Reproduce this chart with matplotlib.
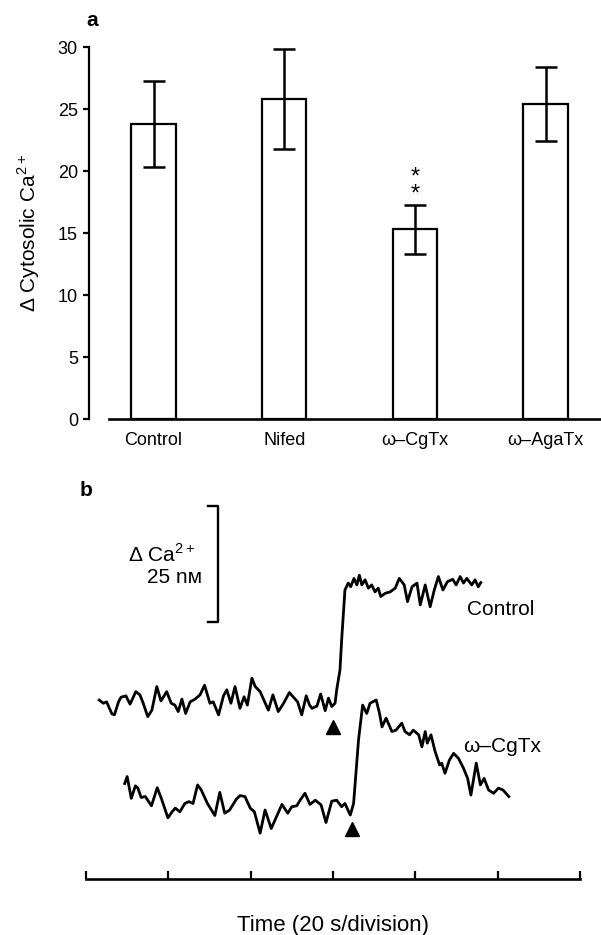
import matplotlib
matplotlib.use('Agg')
import matplotlib.pyplot as plt
import numpy as np

plt.rcParams['font.family'] = ['Liberation Sans', 'DejaVu Sans']
plt.rcParams['mathtext.fontset'] = 'custom'
plt.rcParams['mathtext.rm'] = 'Liberation Sans'

# --- panel a: peak rise in cytosolic Ca2+ (nM) ---
groups = ['Control', 'Nifed', 'ω–CgTx', 'ω–AgaTx']
mean_ca = [23.8, 25.8, 15.3, 25.4]
sem_ca = [3.5, 4.0, 2.0, 3.0]
signif = ['', '', '**', '']

# --- panel b: example traces (time in s, delta Ca2+ in nM) ---
control_t = [3.2, 4.2, 5.0, 6.3, 6.9, 7.9, 8.5, 9.7, 10.7, 12.1,
             13.1, 13.9, 15.0, 16.0, 17.2, 18.2, 19.6, 20.7, 21.6, 22.4,
             23.3, 24.2, 25.3, 26.5, 27.7, 28.8, 30.1, 30.9, 32.2, 33.4,
             34.2, 35.2, 36.2, 37.4, 38.4, 39.2, 40.3, 41.1, 42.3, 44.3,
             45.4, 46.7, 48.0, 49.4, 50.6, 51.4, 52.4, 53.5, 54.3, 54.9,
             56.1, 57.0, 58.1, 58.9, 59.7, 60.5, 60.9, 61.7, 62.1, 62.9,
             63.7, 64.3, 65.1, 65.8, 66.4, 67.0, 67.8, 68.6, 69.4, 70.2,
             71.0, 71.6, 72.7, 73.9, 75.1, 76.1, 77.3, 78.1, 79.2, 80.4,
             81.2, 82.4, 83.6, 84.6, 85.6, 86.7, 87.8, 89.1, 89.9, 90.9,
             91.7, 92.5, 93.7, 94.5, 95.3, 95.9]
control_ca = [0.0, -0.7, -0.4, -3.0, -3.2, -0.4, 0.6, 0.9, -0.9, 1.8,
              1.1, -0.7, -3.6, -2.2, 2.9, -0.2, 1.8, -0.7, -1.1, -2.5,
              0.2, -2.9, -0.4, 0.2, 1.1, 3.2, -0.7, -0.4, -3.2, 0.9,
              2.2, -0.7, 2.9, -1.8, 0.7, -1.1, 4.7, 2.9, 1.8, -2.2,
              1.1, -2.5, -0.7, 1.6, 0.4, -0.4, -3.2, 0.9, -1.1, -1.8,
              -1.3, 1.3, -2.3, 0.4, -1.4, -0.7, 2.2, 6.5, 12.9, 23.7,
              25.2, 24.4, 26.2, 24.8, 26.9, 24.8, 25.9, 24.1, 24.8, 23.3,
              24.1, 22.3, 23.0, 23.3, 24.1, 26.2, 24.8, 21.2, 24.4, 25.2,
              20.5, 24.8, 20.1, 23.7, 26.6, 23.7, 25.5, 26.0, 24.8, 26.6,
              25.2, 26.2, 24.8, 25.9, 24.4, 25.3]

cgtx_t = [9.4, 10.0, 11.0, 12.0, 12.6, 13.4, 14.4, 15.9, 17.3, 18.3,
          19.9, 20.9, 21.7, 22.8, 24.0, 25.0, 26.0, 27.1, 28.0, 29.5,
          31.3, 32.5, 33.7, 34.9, 36.5, 37.4, 38.6, 39.9, 40.9, 42.3,
          43.5, 45.0, 46.1, 47.6, 49.0, 50.0, 51.2, 52.0, 53.2, 54.4,
          55.7, 57.1, 58.3, 59.7, 60.9, 62.1, 62.9, 64.2, 65.0, 66.2,
          67.2, 68.2, 69.0, 70.5, 71.3, 71.9, 72.9, 74.3, 75.3, 76.7,
          77.5, 78.6, 79.5, 80.8, 81.6, 82.4, 82.9, 83.8, 84.8, 85.9,
          86.4, 87.2, 88.3, 89.3, 90.5, 91.7, 92.7, 93.5, 94.8, 95.8,
          96.7, 97.8, 99.0, 100.2, 101.3, 102.7]
cgtx_ca = [-18.0, -16.5, -21.2, -18.5, -19.0, -21.0, -20.8, -22.8, -18.9, -21.2,
           -25.4, -24.1, -23.3, -24.1, -22.3, -21.9, -22.3, -18.3, -19.4, -22.3,
           -24.9, -19.9, -24.4, -23.7, -21.4, -20.6, -20.8, -23.3, -24.1, -28.7,
           -23.7, -27.7, -25.5, -22.5, -24.4, -23.0, -22.8, -21.6, -20.1, -22.5,
           -21.6, -22.6, -26.4, -21.8, -21.6, -23.0, -22.3, -24.8, -22.3, -8.6,
           -1.1, -2.9, -0.7, 0.0, -2.9, -5.8, -3.9, -6.8, -6.5, -5.0,
           -6.8, -7.5, -6.5, -7.5, -10.1, -6.8, -9.3, -7.5, -11.1, -14.0,
           -13.6, -15.8, -12.9, -11.5, -12.6, -14.7, -16.9, -20.5, -13.6, -18.3,
           -16.9, -19.4, -20.1, -19.0, -19.4, -20.8]

# time of stimulus (arrowheads) and level where they are drawn
stim_t = [60.0, 64.5]
stim_level = [-5.8, -27.8]
scale_nM = 25

W, H = 601, 935
fig = plt.figure(figsize=(W / 100, H / 100), dpi=100)


def box(x0, y0, x1, y1):
    # pixel box (top-left origin) -> figure fraction
    return [x0 / W, 1 - y1 / H, (x1 - x0) / W, (y1 - y0) / H]


# panel a
ax = fig.add_axes(box(89, 47, 601, 419.3))
x = np.arange(len(groups))
ax.bar(x, mean_ca, width=0.34, color='white', edgecolor='black', linewidth=1.6, zorder=2)
ax.errorbar(x, mean_ca, yerr=sem_ca, fmt='none', ecolor='black',
            elinewidth=1.8, capsize=8, capthick=1.8, zorder=3)
for i, s in enumerate(signif):
    if s:
        ax.text(x[i], mean_ca[i] + sem_ca[i] - 0.1, '\n'.join(s),
                ha='center', va='bottom', fontsize=17, linespacing=0.75)

ax.set_xlim(-0.494, 3.424)
ax.set_ylim(0, 30)
ax.spines['top'].set_visible(False)
ax.spines['right'].set_visible(False)
ax.spines['left'].set_linewidth(1.6)
ax.spines['bottom'].set_linewidth(1.9)
ax.spines['bottom'].set_bounds(-0.34, 3.424)
ax.set_yticks(range(0, 31, 5))
ax.tick_params(axis='y', length=4, width=1.6, labelsize=13, pad=4)
ax.set_xticks(x)
ax.set_xticklabels(groups)
ax.tick_params(axis='x', length=0, labelsize=13, pad=9)
ax.set_ylabel('Δ Cytosolic Ca$^{\\mathrm{2+}}$', fontsize=15, labelpad=11)

fig.text(92 / W, 1 - 21 / H, 'a', fontsize=15, fontweight='bold', ha='center', va='center')
fig.text(86 / W, 1 - 490 / H, 'b', fontsize=15, fontweight='bold', ha='center', va='center')

# panel b
bx = fig.add_axes(box(86, 480, 580, 879.3))
bx.set_xlim(0, 120)
bx.set_ylim(-38.64, 47.41)
bx.plot(control_t, control_ca, color='black', lw=2.0, clip_on=False)
bx.plot(cgtx_t, cgtx_ca, color='black', lw=2.0, clip_on=False)
bx.plot(stim_t, stim_level, '^', color='black', ms=10, ls='none', clip_on=False)

# vertical scale bar
bar_t, bar_top = 32.1, 41.8
bx.plot([bar_t - 2.4, bar_t, bar_t, bar_t - 2.4],
        [bar_top, bar_top, bar_top - scale_nM, bar_top - scale_nM],
        color='black', lw=1.7)
bx.text(26.5, 31.3, 'Δ Ca$^{\\mathrm{2+}}$', ha='right', va='center', fontsize=15)
bx.text(28.2, 26.3, f'{scale_nM} nᴍ', ha='right', va='center', fontsize=15)

bx.text(92.6, 19.4, 'Control', ha='left', va='center', fontsize=15)
bx.text(91.6, -10.1, 'ω–CgTx', ha='left', va='center', fontsize=15)

for side in ['top', 'right', 'left']:
    bx.spines[side].set_visible(False)
bx.spines['bottom'].set_linewidth(1.9)
bx.set_yticks([])
bx.set_xticks(range(0, 121, 20))
bx.tick_params(axis='x', direction='in', length=6, width=1.6, labelbottom=False)
bx.set_xlabel('Time (20 s/division)', fontsize=16, labelpad=26)

fig.savefig('out.png', dpi=100)
